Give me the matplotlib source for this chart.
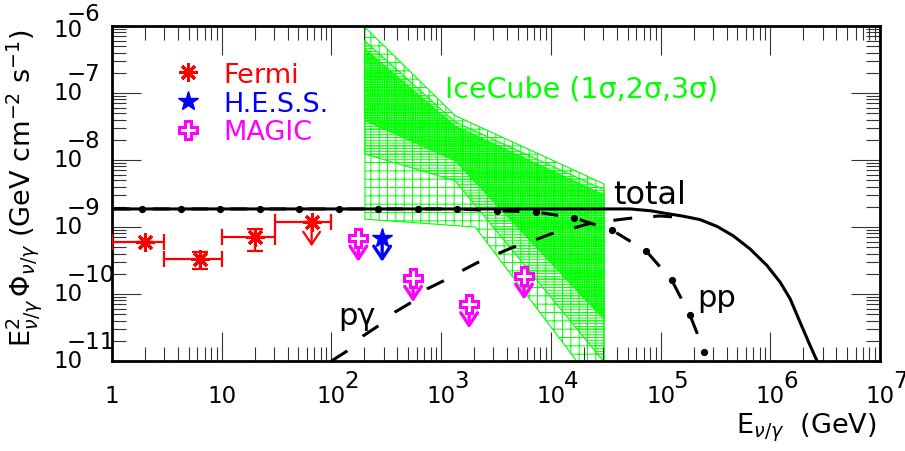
import matplotlib
matplotlib.use("Agg")
import matplotlib.pyplot as plt
import numpy as np
from matplotlib.lines import Line2D
from matplotlib.ticker import LogLocator, NullFormatter
from matplotlib.transforms import offset_copy

plt.rcParams["font.family"] = ["DejaVu Sans"]
plt.rcParams["mathtext.fontset"] = "dejavusans"
plt.rcParams["hatch.linewidth"] = 0.7
plt.rcParams["lines.scale_dashes"] = False

# ---- data ----
# Fermi (red asterisks, last one an upper limit)
fermi_e = [2.0, 6.3, 20.0, 66.0]
fermi_e_lo = [1.0, 3.0, 10.0, 30.5]
fermi_e_hi = [3.0, 10.0, 30.5, 100.0]
fermi_f = [5.9e-10, 3.3e-10, 7.0e-10, 1.17e-9]
fermi_f_lo = [5.9e-10, 2.4e-10, 4.4e-10, 1.17e-9]
fermi_f_hi = [5.9e-10, 4.3e-10, 9.3e-10, 1.17e-9]
fermi_ul = [False, False, False, True]

# H.E.S.S. (upper limit)
hess_e = [290.0]
hess_f = [6.9e-10]

# MAGIC (upper limits)
magic_e = [176.0, 555.0, 1800.0, 5700.0]
magic_f = [6.9e-10, 1.73e-10, 7.0e-11, 1.87e-10]

ul_ratio = 0.44  # length of the upper-limit arrows (flux ratio)

# IceCube contours (1, 2, 3 sigma)
ic_e = [202.0, 1340.0, 30500.0]
ic1_upper = [4.5e-7, 3.2e-8, 3.0e-9]
ic1_lower = [3.9e-8, 9.8e-9, 4.2e-11]
ic2_upper = [6.0e-7, 3.7e-8, 3.6e-9]
ic2_lower = [1.23e-8, 4.9e-9, 9.7e-12]
ic3_upper = [9.6e-7, 4.6e-8, 4.4e-9]
ic3_lower_e = [202.0, 2040.0, 30500.0]
ic3_lower = [1.31e-9, 1.0e-9, 2.9e-12]

# model curves
total_e = [1.0, 52700.0, 80200.0, 122000.0, 160400.0, 229000.0, 327000.0,
           458000.0, 655000.0, 935000.0, 1.23e6, 1.52e6, 1.87e6, 2.31e6, 2.67e6]
total_f = [1.86e-9, 1.86e-9, 1.75e-9, 1.56e-9, 1.45e-9, 1.29e-9, 1.02e-9,
           7.41e-10, 4.70e-10, 2.65e-10, 1.50e-10, 8.42e-11, 3.78e-11, 1.69e-11,
           1.0e-11]

pp_e = [1.0, 1.87, 4.26, 9.71, 22.3, 51.0, 117.0, 268.0, 612.0, 1390.0,
        3210.0, 7330.0, 16400.0, 36400.0, 73800.0, 126500.0, 185800.0, 250800.0]
pp_f = [1.86e-9, 1.86e-9, 1.86e-9, 1.86e-9, 1.86e-9, 1.86e-9, 1.86e-9, 1.86e-9,
        1.86e-9, 1.86e-9, 1.75e-9, 1.67e-9, 1.37e-9, 8.9e-10, 4.4e-10, 1.6e-10,
        4.8e-11, 1.38e-11]

pg_e = [100.0, 139.0, 194.0, 266.0, 380.0, 543.0, 744.0, 1040.0, 1550.0, 2170.0,
        3230.0, 4520.0, 6880.0, 10000.0, 15600.0, 21800.0, 34700.0, 52700.0,
        99000.0, 185800.0]
pg_f = [1.0e-11, 1.41e-11, 2.36e-11, 3.33e-11, 5.38e-11, 7.6e-11, 1.19e-10,
        1.56e-10, 2.23e-10, 2.97e-10, 3.95e-10, 4.98e-10, 6.25e-10, 7.87e-10,
        9.51e-10, 1.11e-9, 1.24e-9, 1.35e-9, 1.46e-9, 1.36e-9]

x_exps = [0, 1, 2, 3, 4, 5, 6, 7]
y_exps = [-11, -10, -9, -8, -7, -6]

RED, BLUE, MAG, GREEN = "#ff0000", "#0000ff", "#ff00ff", "#00ff00"

fig = plt.figure(figsize=(9.05, 4.52), dpi=100)
ax = fig.add_axes([112 / 905, 90 / 452, 768 / 905, 335 / 452])
ax.set_xscale("log")
ax.set_yscale("log")
ax.set_xlim(1, 1e7)
ax.set_ylim(1e-11, 1e-6)

# IceCube band: 3 sigma grid, 2 sigma lines, 1 sigma dense checker
for up, lo_e, lo, hatch, face in [
        (ic3_upper, ic3_lower_e, ic3_lower, "++", "none"),
        (ic2_upper, ic_e, ic2_lower, "------", "none"),
        (ic1_upper, ic_e, ic1_lower, "+++++++", (0, 1, 0, 0.3))]:
    ax.fill(ic_e + lo_e[::-1], up + lo[::-1], facecolor=face,
            edgecolor=GREEN, hatch=hatch, lw=0.8, zorder=1)

# models
ax.plot(total_e, total_f, color="black", lw=2.2, solid_joinstyle="round", zorder=3)
ax.plot(pp_e, pp_f, color="black", lw=2.2, ls=(26.6, (12, 16)),
        marker="o", ms=4.2, markevery=slice(1, None), zorder=3)
ax.plot(pg_e, pg_f, color="black", lw=2.2, ls=(0, (13.6, 15.2)), zorder=3)

# Fermi
fe = np.array(fermi_e)
ff = np.array(fermi_f)
ax.errorbar(fe, ff, xerr=[fe - np.array(fermi_e_lo), np.array(fermi_e_hi) - fe],
            yerr=[ff - np.array(fermi_f_lo), np.array(fermi_f_hi) - ff],
            fmt="none", ecolor=RED, elinewidth=1.6, capsize=5.5, capthick=1.6,
            zorder=4)
ax.plot(fe, ff, ls="none", marker=(8, 2, 0), ms=13, mew=2.2, color=RED, zorder=5)

arrow_kw = dict(arrowstyle="->,head_length=0.45,head_width=0.3",
                mutation_scale=20, shrinkA=0, shrinkB=0)
for e, f, ul in zip(fermi_e, fermi_f, fermi_ul):
    if ul:
        ax.annotate("", xy=(e, f * ul_ratio), xytext=(e, f),
                    arrowprops=dict(color=RED, lw=1.6, **arrow_kw), zorder=4)

for e, f in zip(hess_e, hess_f):
    ax.annotate("", xy=(e, f * ul_ratio), xytext=(e, f),
                arrowprops=dict(color=BLUE, lw=2.4, **arrow_kw), zorder=4)
ax.plot(hess_e, hess_f, ls="none", marker="*", ms=15, color=BLUE, zorder=5)

for e, f in zip(magic_e, magic_f):
    ax.annotate("", xy=(e, f * ul_ratio), xytext=(e, f),
                arrowprops=dict(color=MAG, lw=2.4, **arrow_kw), zorder=4)
ax.plot(magic_e, magic_f, ls="none", marker="P", ms=13, mew=2.2,
        mfc="white", mec=MAG, zorder=5)

# legend
handles = [
    Line2D([], [], ls="none", marker=(8, 2, 0), ms=13, mew=2.2, color=RED),
    Line2D([], [], ls="none", marker="*", ms=15, color=BLUE),
    Line2D([], [], ls="none", marker="P", ms=13, mew=2.2, mfc="white", mec=MAG),
]
ax.legend(handles, ["Fermi", "H.E.S.S.", "MAGIC"], loc="upper left",
          bbox_to_anchor=(0.081, 0.893), frameon=False, fontsize=19.5,
          handlelength=1.0, handletextpad=0.8, labelspacing=0.1,
          borderpad=0, borderaxespad=0, labelcolor="markeredgecolor")

# text labels
ax.text(0.434, 0.791, "IceCube (1σ,2σ,3σ)", transform=ax.transAxes,
        color=GREEN, fontsize=20.5, va="baseline")
ax.text(0.652, 0.472, "total", transform=ax.transAxes, fontsize=23, va="baseline")
ax.text(0.294, 0.110, "pγ", transform=ax.transAxes, fontsize=22, va="baseline")
ax.text(0.762, 0.164, "pp", transform=ax.transAxes, fontsize=22, va="baseline")

# axes style
for s in ax.spines.values():
    s.set_linewidth(2)
ax.xaxis.set_major_locator(LogLocator(base=10, numticks=20))
ax.xaxis.set_minor_locator(LogLocator(base=10, subs=np.arange(2, 10), numticks=20))
ax.yaxis.set_major_locator(LogLocator(base=10, numticks=20))
ax.yaxis.set_minor_locator(LogLocator(base=10, subs=np.arange(2, 10), numticks=20))
for axis in (ax.xaxis, ax.yaxis):
    axis.set_major_formatter(NullFormatter())
    axis.set_minor_formatter(NullFormatter())
ax.tick_params(which="both", direction="in", top=True, right=True,
               color="#333333", width=0.8)
ax.tick_params(which="major", length=21)
ax.tick_params(which="minor", length=10)

# tick labels: ROOT-style 10 with a full-size exponent
lab = dict(fontsize=16.5)
xt = ax.get_xaxis_transform()
for k in x_exps:
    v = 10.0 ** k
    base = "1" if k == 0 else "10"
    ax.text(v, 0, base, transform=offset_copy(xt, fig, y=-16.6, units="points"),
            ha="center", va="top", clip_on=False, **lab)
    if k >= 2:
        ax.text(v, 0, str(k), transform=offset_copy(xt, fig, x=9.4, y=-18.7, units="points"),
                ha="left", va="baseline", clip_on=False, **lab)

yt = ax.get_yaxis_transform()
for k in y_exps:
    v = 10.0 ** k
    top = k == y_exps[-1]
    ax.text(0, v, "10", transform=offset_copy(yt, fig, x=-20.9, y=-2.2 if top else 0,
                                              units="points"),
            ha="right", va="center", clip_on=False, **lab)
    ax.text(0, v, "\u2212" + str(-k),
            transform=offset_copy(yt, fig, x=-32.4, y=4.3 if top else 9.4, units="points"),
            ha="left", va="baseline", clip_on=False, **lab)

fig.text(0.969, 0.042, r"$\mathrm{E}_{\nu/\gamma}$  (GeV)", ha="right", va="baseline",
         fontsize=19.5)
fig.text(0.027, 0.583,
         r"$\mathrm{E}^{2}_{\nu/\gamma}\,\mathrm{\Phi}_{\nu/\gamma}$ (GeV cm$^{-2}$ s$^{-1}$)",
         rotation=90, ha="center", va="center", fontsize=19.5)

fig.savefig("out.png", dpi=100)
